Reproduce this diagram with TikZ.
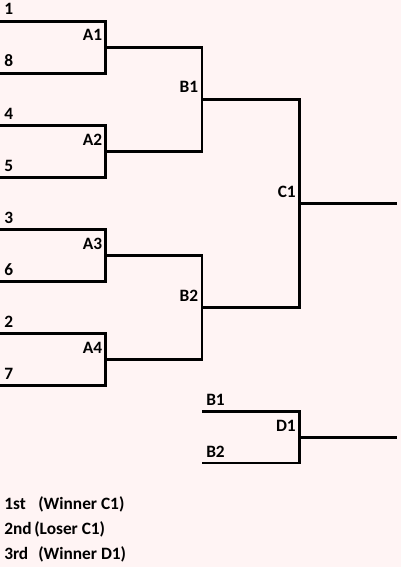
\documentclass[tikz,border=0pt]{standalone}
\usepackage{fontspec}
\setmainfont{Carlito}
\usepackage{tikz}
\usetikzlibrary{positioning}
\definecolor{bgpink}{RGB}{255,244,244}
\newcommand{\lblfont}{\fontsize{13pt}{15pt}\selectfont\bfseries}
\tikzset{
  bline/.style={draw,line width=2pt,line join=miter},
  seedlbl/.style={anchor=base west,inner sep=0pt,font=\lblfont},
  matchlbl/.style={anchor=base east,inner sep=0pt,font=\lblfont},
  placelbl/.style={anchor=base west,inner sep=0pt,font=\lblfont},
}

\begin{document}
\begin{tikzpicture}[x=0.75pt,y=-0.75pt]
  \fill[bgpink] (0,0) rectangle (401,567);
  \useasboundingbox (0,0) rectangle (401,567);
  % seed ends
  \coordinate (s1) at (0,21.5);
  \coordinate (s8) at (0,73.5);
  \coordinate (s4) at (0,125.5);
  \coordinate (s5) at (0,177.5);
  \coordinate (s3) at (0,229.5);
  \coordinate (s6) at (0,281.5);
  \coordinate (s2) at (0,333.5);
  \coordinate (s7) at (0,385.5);
  % match points
  \coordinate (a1) at (105.5,47.5);
  \coordinate (a2) at (105.5,151.5);
  \coordinate (a3) at (105.5,255.5);
  \coordinate (a4) at (105.5,359.5);
  \coordinate (b1) at (202,99.5);
  \coordinate (b2) at (202,307.5);
  \coordinate (c1) at (299.5,203.5);
  \coordinate (c1end) at (397,203.5);
  \coordinate (db1) at (202,411.5);
  \coordinate (db2) at (202,463);
  \coordinate (d1) at (299.5,437.3);
  \coordinate (d1end) at (397,437.3);

  \draw[bline] (s1) -| (a1) |- (s8);
  \draw[bline] (s4) -| (a2) |- (s5);
  \draw[bline] (s3) -| (a3) |- (s6);
  \draw[bline] (s2) -| (a4) |- (s7);
  \draw[bline] (a1) -| (b1) |- (a2);
  \draw[bline] (a3) -| (b2) |- (a4);
  \draw[bline] (b1) -| (c1) |- (b2);
  \draw[bline] (c1) -- (c1end);
  \draw[bline] (db1) -| (d1) |- (db2);
  \draw[bline] (d1) -- (d1end);

  % seed labels
  \node[seedlbl] (t1) at (4,15) {1};
  \node[seedlbl] (t8) at (4,67) {8};
  \node[seedlbl] (t4) at (4,119) {4};
  \node[seedlbl] (t5) at (4,171) {5};
  \node[seedlbl] (t3) at (4,223) {3};
  \node[seedlbl] (t6) at (4,275) {6};
  \node[seedlbl] (t2) at (4,327) {2};
  \node[seedlbl] (t7) at (4,379) {7};
  \node[seedlbl] (tb1) at (206,405.5) {B1};
  \node[seedlbl] (tb2) at (206,457) {B2};

  % match labels
  \node[matchlbl] (la1) at (102.5,41) {A1};
  \node[matchlbl] (la2) at (102.5,145) {A2};
  \node[matchlbl] (la3) at (102.5,249) {A3};
  \node[matchlbl] (la4) at (102.5,353) {A4};
  \node[matchlbl] (lb1) at (198.5,93) {B1};
  \node[matchlbl] (lb2) at (198.5,301) {B2};
  \node[matchlbl] (lc1) at (296,197) {C1};
  \node[matchlbl] (ld1) at (296,431) {D1};

  % places
  \node[placelbl] (p1) at (4,509) {\makebox[25.5pt][l]{1st}(Winner C1)};
  \node[placelbl] (p2) at (4,534.5) {\makebox[22.5pt][l]{2nd}(Loser C1)};
  \node[placelbl] (p3) at (4,559.5) {\makebox[25.5pt][l]{3rd}(Winner D1)};
\end{tikzpicture}
\end{document}
